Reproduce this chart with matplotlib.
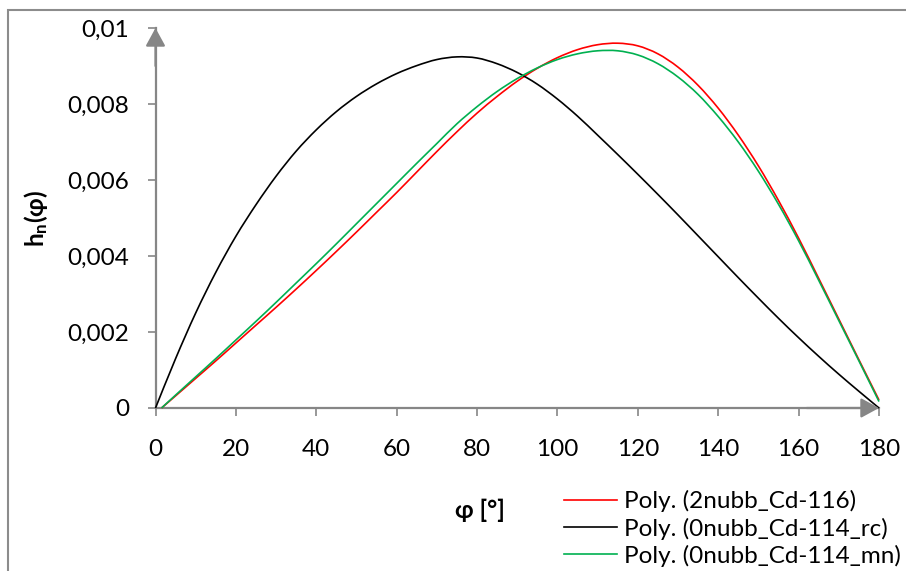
import matplotlib
matplotlib.use("Agg")
import matplotlib.pyplot as plt
from matplotlib.patches import Rectangle, PathPatch
from matplotlib.path import Path
from matplotlib.lines import Line2D

plt.rcParams['font.family'] = ['Lato', 'DejaVu Sans']
plt.rcParams['mathtext.fontset'] = 'custom'
plt.rcParams['mathtext.rm'] = 'Lato'
plt.rcParams['mathtext.bf'] = 'Lato:bold'

# ---- data ----
phi_black = [0, 5, 10, 15, 20, 25, 30, 35, 40, 45, 50, 55, 60, 65, 70, 75, 80, 85, 90,
             95, 100, 105, 110, 115, 120, 125, 130, 135, 140, 145, 150, 155, 160, 165,
             170, 175, 180]
h_black = [0.0, 0.00130, 0.00250, 0.00357, 0.00452, 0.00535, 0.00610, 0.00676, 0.00732,
           0.00780, 0.00820, 0.00853, 0.00880, 0.00901, 0.00917, 0.00924, 0.00921, 0.00906,
           0.00883, 0.00852, 0.00813, 0.00768, 0.00718, 0.00667, 0.00615, 0.00562, 0.00508,
           0.00453, 0.00398, 0.00343, 0.00289, 0.00236, 0.00185, 0.00136, 0.00089, 0.00044,
           0.0]

phi_rg = [1.5, 5, 10, 15, 20, 25, 30, 35, 40, 45, 50, 55, 60, 65, 70, 75, 80, 85, 90,
          95, 100, 105, 110, 115, 120, 125, 130, 135, 140, 145, 150, 155, 160, 165, 170,
          175, 180]
h_red = [0.0, 0.00032, 0.00078, 0.00124, 0.00171, 0.00218, 0.00265, 0.00313, 0.00362,
         0.00412, 0.00463, 0.00515, 0.00567, 0.00621, 0.00675, 0.00727, 0.00776, 0.00820,
         0.00860, 0.00894, 0.00922, 0.00943, 0.00956, 0.00960, 0.00953, 0.00932, 0.00897,
         0.00849, 0.00789, 0.00718, 0.00637, 0.00546, 0.00447, 0.00341, 0.00234, 0.00127,
         0.00021]
h_green = [0.0, 0.00034, 0.00082, 0.00130, 0.00179, 0.00228, 0.00278, 0.00329, 0.00380,
           0.00432, 0.00485, 0.00538, 0.00591, 0.00644, 0.00696, 0.00748, 0.00793, 0.00833,
           0.00867, 0.00895, 0.00917, 0.00932, 0.00940, 0.00940, 0.00929, 0.00906, 0.00871,
           0.00825, 0.00767, 0.00700, 0.00623, 0.00536, 0.00440, 0.00336, 0.00230, 0.00124,
           0.00017]

labels = ['Poly. (2nubb_Cd-116)', 'Poly. (0nubb_Cd-114_rc)', 'Poly. (0nubb_Cd-114_mn)']
colors = ['#ff0000', '#000000', '#00b050']
xticks = [0, 20, 40, 60, 80, 100, 120, 140, 160, 180]
yticks = [0, 0.002, 0.004, 0.006, 0.008, 0.01]
ytick_labels = ['0', '0,002', '0,004', '0,006', '0,008', '0,01']


def smooth_path(xs, ys):
    """Smoothed line (Catmull-Rom drawn as cubic Bezier) through the data points."""
    pts = list(zip(xs, ys))
    n = len(pts)
    verts = [pts[0]]
    codes = [Path.MOVETO]
    for i in range(n - 1):
        p0 = pts[i - 1] if i > 0 else pts[i]
        p1 = pts[i]
        p2 = pts[i + 1]
        p3 = pts[i + 2] if i + 2 < n else pts[i + 1]
        c1 = (p1[0] + (p2[0] - p0[0]) / 6, p1[1] + (p2[1] - p0[1]) / 6)
        c2 = (p2[0] - (p3[0] - p1[0]) / 6, p2[1] - (p3[1] - p1[1]) / 6)
        verts += [c1, c2, p2]
        codes += [Path.CURVE4] * 3
    return Path(verts, codes)


W, H = 906, 571
fig = plt.figure(figsize=(W / 100, H / 100), dpi=100)
ax = fig.add_axes([155.5 / W, 1 - 408 / H, (879 - 155.5) / W, (408 - 28) / H])

gray = '#868686'
# outer chart border
fig.patches.append(Rectangle((8 / W, -0.1), 1.2, 1 - 9.5 / H + 0.1, transform=fig.transFigure,
                             fill=False, edgecolor='#8c8c8c', linewidth=1.5))

lw = 1.2
for xs, ys, c in [(phi_rg, h_red, colors[0]), (phi_black, h_black, colors[1]),
                  (phi_rg, h_green, colors[2])]:
    patch = PathPatch(smooth_path(xs, ys), facecolor='none', edgecolor=c, lw=lw,
                      transform=ax.transData, clip_on=False, zorder=3)
    ax.add_patch(patch)

ax.set_xlim(0, 180)
ax.set_ylim(0, 0.01)
ax.set_xticks(xticks)
ax.set_xticklabels([str(t) for t in xticks])
ax.set_yticks(yticks)
ax.set_yticklabels(ytick_labels)

for s in ['top', 'right']:
    ax.spines[s].set_visible(False)
for s in ['left', 'bottom']:
    ax.spines[s].set_color(gray)
    ax.spines[s].set_linewidth(1.6)
    ax.spines[s].set_zorder(2)

fs = 17.5
ax.tick_params(axis='both', direction='out', color=gray, width=1.2, length=6,
               labelsize=fs, labelcolor='black')
ax.tick_params(axis='y', pad=13)
ax.tick_params(axis='x', pad=16)

# arrow heads on the axes
for xy, xyt in [((0, 1), (0, 0.9)), ((1, 0), (0.9, 0))]:
    ax.annotate('', xy=xy, xytext=xyt, xycoords='axes fraction', textcoords='axes fraction',
                arrowprops=dict(arrowstyle='-|>,head_length=11,head_width=6', color=gray,
                                lw=1.6, shrinkA=0, shrinkB=0, mutation_scale=1),
                annotation_clip=False)

fig.text(36 / W, 1 - 218 / H, r'$\mathbf{h_n}$' + '(φ)', rotation=90, fontsize=17.5,
         fontweight='bold', ha='center', va='center')
fig.text(480 / W, 1 - 510 / H, 'φ [°]', fontsize=17.5, fontweight='bold', ha='center',
         va='center')

handles = [Line2D([], [], color=c, lw=lw) for c in colors]
leg = fig.legend(handles, labels, loc='center left', bbox_to_anchor=(564 / W, 1 - 528.5 / H),
                 frameon=False, fontsize=fs, handlelength=2.2, handletextpad=0.25,
                 labelspacing=0.22, borderpad=0, borderaxespad=0)

fig.savefig('out.png', dpi=100)
